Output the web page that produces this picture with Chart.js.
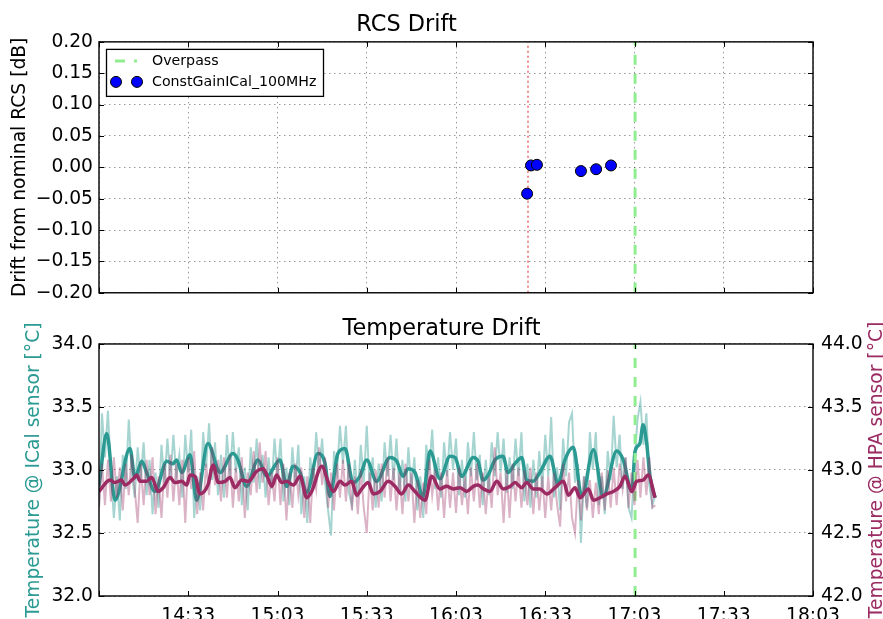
<!DOCTYPE html>
<html>
<head>
<meta charset="utf-8">
<script src="https://cdn.jsdelivr.net/npm/chart.js@4.4.1/dist/chart.umd.min.js"></script>
<style>
  html, body { margin: 0; padding: 0; background: #fff; overflow: hidden; }
  #wrap { position: relative; width: 883px; height: 619px; }
  #rcsChart { position: absolute; left: 0; top: 0; }
  #tempChart { position: absolute; left: 0; top: 305px; }
</style>
</head>
<body>
<div id="wrap">
  <canvas id="rcsChart" width="883" height="310"></canvas>
  <canvas id="tempChart" width="883" height="314"></canvas>
</div>
<script>
// x axis is minutes after 14:03
const timeTicks = ['', '14:33', '15:03', '15:33', '16:03', '16:33', '17:03', '17:33', '18:03'];
const overpassMin = 180.2;
const firstCalMin = 144.2;

// RCS drift points
const rcsTimes = [143.9, 145.2, 147.2, 162.0, 167.1, 172.1];
const rcsDrift = [-0.042, 0.003, 0.004, -0.006, -0.003, 0.003];

// ICal sensor, raw (one value per minute, starting at 14:03)
const icalRaw = [32.72, 33.45, 33.10, 33.47, 32.98, 32.62, 32.95, 32.60, 33.12, 32.85,
  33.40, 32.98, 32.78, 33.18, 32.92, 33.22, 32.80, 33.08, 32.65, 32.98,
  32.70, 33.20, 32.90, 33.25, 32.92, 33.28, 32.95, 33.12, 32.78, 33.28,
  32.98, 33.32, 32.62, 32.95, 32.68, 33.30, 33.02, 33.37, 32.92, 33.22,
  32.80, 33.12, 32.78, 33.28, 32.95, 33.30, 32.98, 33.18, 32.72, 33.02,
  32.68, 33.18, 32.90, 33.25, 32.85, 33.12, 32.78, 33.10, 32.85, 33.25,
  32.95, 33.25, 32.75, 33.02, 32.72, 33.18, 32.88, 33.20, 32.65, 32.95,
  32.58, 33.10, 32.88, 33.30, 32.98, 33.25, 32.90, 32.68, 32.48, 33.15,
  32.98, 33.35, 33.05, 33.35, 32.82, 32.72, 33.08, 32.78, 33.20, 32.90,
  33.35, 32.85, 33.10, 32.70, 33.05, 32.75, 33.22, 32.95, 33.28, 32.92,
  33.25, 32.82, 33.08, 32.75, 33.18, 32.85, 33.10, 32.68, 32.95, 32.62,
  33.20, 33.00, 33.32, 32.85, 33.10, 32.78, 33.22, 32.95, 33.30, 33.00,
  33.25, 32.80, 33.08, 32.78, 33.22, 32.95, 33.30, 32.92, 33.12, 32.72,
  33.08, 32.80, 33.22, 32.95, 33.30, 32.98, 33.25, 32.82, 33.10, 32.85,
  33.25, 32.95, 33.30, 32.75, 33.05, 32.70, 33.08, 32.78, 33.15, 32.85,
  33.28, 32.95, 33.42, 32.78, 33.02, 32.68, 33.25, 32.95, 33.38, 33.45,
  32.90, 33.05, 32.42, 32.95, 32.70, 33.30, 33.00, 33.30, 32.72, 32.95,
  32.65, 33.15, 32.92, 33.43, 33.02, 33.28, 32.85, 33.10, 32.70, 32.62,
  33.05, 33.40, 33.54, 33.20, 33.45, 32.88, 32.72, 32.80];

// HPA sensor, raw (one value per minute)
const hpaRaw = [42.70, 43.05, 42.72, 43.08, 42.75, 43.10, 42.78, 43.02, 42.68, 43.05,
  42.80, 43.12, 42.85, 42.58, 43.05, 42.72, 43.08, 42.80, 43.10, 42.65,
  42.95, 42.62, 43.05, 42.78, 43.12, 42.75, 43.05, 42.72, 43.08, 42.58,
  43.10, 42.85, 43.15, 42.65, 42.98, 42.68, 43.05, 42.80, 43.18, 42.88,
  43.08, 42.75, 43.10, 42.78, 43.12, 42.70, 43.02, 42.75, 43.10, 42.62,
  42.98, 42.80, 43.15, 42.82, 43.22, 42.90, 43.15, 42.72, 42.98, 42.75,
  43.10, 42.72, 43.05, 42.60, 42.98, 42.70, 43.05, 42.80, 43.02, 42.62,
  42.95, 42.58, 43.02, 42.85, 43.18, 42.88, 43.10, 42.70, 42.98, 42.68,
  43.05, 42.78, 43.08, 42.75, 43.05, 42.68, 42.95, 42.65, 43.00, 42.70,
  42.50, 42.98, 42.68, 43.00, 42.70, 43.05, 42.78, 43.10, 42.75, 43.02,
  42.68, 42.98, 42.65, 43.05, 42.75, 42.98, 42.58, 42.92, 42.62, 42.90,
  42.65, 43.08, 42.80, 43.00, 42.68, 42.98, 42.62, 43.00, 42.70, 42.98,
  42.66, 43.02, 42.72, 42.95, 42.65, 43.02, 42.75, 43.05, 42.70, 42.98,
  42.65, 42.95, 42.70, 43.18, 42.80, 42.98, 42.58, 43.00, 42.62, 43.05,
  42.75, 43.02, 42.70, 43.00, 42.72, 43.02, 42.65, 42.98, 42.68, 42.95,
  42.62, 42.95, 42.68, 42.98, 42.72, 42.55, 43.05, 42.75, 42.98, 42.62,
  42.50, 42.92, 42.60, 42.95, 42.68, 42.92, 42.62, 42.90, 42.65, 42.98,
  42.68, 43.00, 42.70, 43.02, 42.72, 43.05, 42.85, 43.10, 42.70, 42.98,
  42.72, 43.08, 42.78, 43.10, 42.80, 43.10, 42.70, 42.72];

// smoothed curves
const icalSmoothT = [0, 2.6, 5.4, 10.4, 12.1, 14.4, 16.0, 18.8, 22.8, 24.9,
  26.1, 27.8, 30.6, 32.8, 36.6, 40.7, 45.0, 46.7, 49.6, 53.4,
  56.4, 60.8, 63.1, 65.2, 67.6, 69.8, 73.6, 76.0, 77.6, 80.3,
  82.7, 85.4, 87.7, 90.0, 93.3, 97.8, 100.1, 102.2, 103.9, 106.2,
  108.9, 111.3, 114.6, 118.0, 119.7, 121.9, 125.8, 127.4, 129.1, 130.8,
  133.1, 135.8, 137.5, 139.8, 142.1, 143.7, 145.9, 148.2, 151.6, 154.3,
  156.6, 159.4, 162.3, 166.2, 169.5, 174.0, 176.2, 179.1, 180.2, 181.8,
  182.9, 184.1, 185.2, 186.9];
const icalSmoothV = [32.87, 33.29, 32.76, 33.17, 32.94, 33.07, 32.98, 32.83, 33.07, 33.05,
  33.08, 32.98, 33.12, 32.76, 33.21, 32.98, 33.13, 33.08, 32.87, 33.08,
  32.95, 33.08, 32.87, 33.03, 32.98, 32.82, 33.13, 33.05, 32.79, 33.13,
  33.17, 32.90, 32.95, 33.08, 32.91, 33.10, 33.07, 32.95, 33.01, 32.98,
  32.79, 33.15, 32.93, 33.11, 33.10, 32.95, 33.10, 33.07, 32.92, 32.96,
  33.08, 33.11, 32.98, 33.05, 33.10, 32.92, 32.91, 32.98, 33.11, 32.89,
  33.08, 33.18, 32.79, 33.16, 32.79, 33.15, 33.08, 32.83, 33.15, 33.21,
  33.36, 33.21, 32.95, 32.78];

const hpaSmoothT = [0, 3.7, 5.4, 7.6, 8.7, 11.5, 12.7, 13.8, 16.0, 17.7,
  19.9, 21.6, 23.9, 25.5, 27.8, 29.5, 30.6, 32.3, 33.9, 36.6,
  38.4, 40.1, 42.4, 44.0, 45.7, 48.0, 50.2, 53.0, 55.2, 56.4,
  58.1, 59.7, 61.4, 63.1, 65.3, 67.6, 69.8, 71.5, 74.9, 77.1,
  78.8, 81.0, 82.7, 84.9, 86.6, 88.3, 90.5, 92.2, 94.5, 97.2,
  99.5, 101.7, 104.0, 106.2, 109.6, 111.8, 114.6, 116.8, 119.1, 121.3,
  123.6, 125.8, 127.5, 129.2, 131.4, 133.7, 135.9, 138.2, 139.8, 142.1,
  143.7, 146.0, 148.2, 150.5, 153.3, 156.1, 157.8, 160.0, 161.7, 164.5,
  166.2, 168.4, 170.7, 172.9, 175.1, 176.8, 179.1, 180.7, 182.9, 184.6,
  186.9];
const hpaSmoothV = [42.83, 42.92, 42.90, 42.92, 42.88, 42.93, 42.96, 42.91, 42.91, 42.94,
  42.83, 42.86, 42.94, 42.90, 42.91, 42.88, 42.96, 42.95, 42.81, 42.88,
  43.04, 42.90, 42.91, 42.94, 42.86, 42.92, 42.91, 42.99, 43.01, 42.96,
  42.87, 42.96, 42.90, 42.91, 42.88, 42.95, 42.78, 42.83, 43.03, 42.90,
  42.83, 42.91, 42.88, 42.91, 42.80, 42.85, 42.90, 42.81, 42.83, 42.91,
  42.87, 42.81, 42.88, 42.83, 42.76, 42.95, 42.85, 42.87, 42.85, 42.86,
  42.83, 42.87, 42.88, 42.85, 42.83, 42.91, 42.85, 42.87, 42.90, 42.86,
  42.90, 42.85, 42.85, 42.81, 42.86, 42.91, 42.80, 42.86, 42.78, 42.85,
  42.76, 42.78, 42.81, 42.83, 42.87, 42.95, 42.83, 42.91, 42.92, 42.96,
  42.78];

const TEAL = '#2b9a92';
const TEAL_RAW = 'rgba(43,154,146,0.42)';
const PLUM = '#9b2b62';
const PLUM_RAW = 'rgba(155,43,98,0.36)';
const FONT = "'DejaVu Sans', sans-serif";

Chart.defaults.font.family = FONT;
Chart.defaults.font.size = 18.7;
Chart.defaults.color = '#000';

function pairs(xs, ys) {
  return xs.map((x, i) => ({ x: x, y: ys[i] }));
}
function minus(s) {
  return s.replace('-', '\u2212');
}

// black frame plus inward tick marks, matplotlib style
const framePlugin = {
  id: 'frame',
  afterDraw(chart) {
    const { ctx, chartArea: a, scales } = chart;
    const len = 5;
    ctx.save();
    ctx.strokeStyle = '#000';
    ctx.lineWidth = 1;
    ctx.beginPath();
    scales.x.ticks.forEach(t => {
      const px = Math.round(scales.x.getPixelForValue(t.value)) + 0.5;
      ctx.moveTo(px, a.bottom); ctx.lineTo(px, a.bottom - len);
      ctx.moveTo(px, a.top); ctx.lineTo(px, a.top + len);
    });
    scales.y.ticks.forEach(t => {
      const py = Math.round(scales.y.getPixelForValue(t.value)) + 0.5;
      ctx.moveTo(a.left, py); ctx.lineTo(a.left + len, py);
    });
    const r = scales.y2 || scales.y;
    r.ticks.forEach(t => {
      const py = Math.round(r.getPixelForValue(t.value)) + 0.5;
      ctx.moveTo(a.right, py); ctx.lineTo(a.right - len, py);
    });
    ctx.stroke();
    ctx.lineWidth = 1.4;
    ctx.strokeRect(a.left, a.top, a.right - a.left, a.bottom - a.top);
    ctx.restore();
  }
};

// legend drawn inside the upper left corner of the plot
const insideLegend = {
  id: 'insideLegend',
  afterDraw(chart) {
    const { ctx, chartArea: a } = chart;
    const items = chart.data.datasets.filter(d => d.legendRow !== undefined)
      .sort((p, q) => p.legendRow - q.legendRow);
    const x0 = a.left + 7, y0 = a.top + 7;
    ctx.save();
    ctx.fillStyle = '#fff';
    ctx.fillRect(x0, y0, 217, 47);
    ctx.strokeStyle = '#000';
    ctx.lineWidth = 1.3;
    ctx.strokeRect(x0 + 0.5, y0 + 0.5, 217, 47);
    ctx.font = '14.2px ' + FONT;
    ctx.textBaseline = 'middle';
    items.forEach((d, i) => {
      const cy = y0 + 12 + i * 21;
      if (d.showLine === false) {
        [x0 + 10, x0 + 31].forEach(cx => {
          ctx.beginPath();
          ctx.arc(cx, cy, d.pointRadius, 0, Math.PI * 2);
          ctx.fillStyle = d.backgroundColor;
          ctx.fill();
          ctx.lineWidth = 1;
          ctx.strokeStyle = d.pointBorderColor;
          ctx.stroke();
        });
      } else {
        ctx.beginPath();
        ctx.setLineDash(d.borderDash || []);
        ctx.strokeStyle = d.borderColor;
        ctx.lineWidth = d.borderWidth;
        ctx.moveTo(x0 + 9, cy);
        ctx.lineTo(x0 + 31, cy);
        ctx.stroke();
        ctx.setLineDash([]);
      }
      ctx.fillStyle = '#000';
      ctx.fillText(d.label, x0 + 46, cy);
    });
    ctx.restore();
  }
};

// right-hand axis title, reading bottom to top like the left one
const rightTitle = {
  id: 'rightTitle',
  afterDraw(chart) {
    const s = chart.scales.y2;
    if (!s) return;
    const t = s.options.title;
    const { ctx, chartArea: a } = chart;
    ctx.save();
    ctx.translate(877, (a.top + a.bottom) / 2);
    ctx.rotate(-Math.PI / 2);
    ctx.font = '18.7px ' + FONT;
    ctx.fillStyle = t.color;
    ctx.textAlign = 'center';
    ctx.textBaseline = 'middle';
    ctx.fillText(t.text, 0, 0);
    ctx.restore();
  }
};

const dottedGrid = { color: 'rgba(0,0,0,0.4)', lineWidth: 1, drawTicks: false };
const dottedBorder = { display: false, dash: [1.5, 3.5] };

const timeAxis = (showLabels, grid, height) => ({
  type: 'linear',
  min: 0,
  max: 240,
  ticks: { stepSize: 30, display: showLabels, padding: 1, maxRotation: 0, autoSkip: false,
    callback: (v, i) => timeTicks[i] },
  grid: grid,
  border: dottedBorder,
  afterFit(scale) { scale.height = height; }
});

// ---------- RCS drift ----------
new Chart(document.getElementById('rcsChart'), {
  type: 'line',
  data: {
    datasets: [
      {
        label: 'ConstGainICal_100MHz',
        legendRow: 1,
        data: pairs(rcsTimes, rcsDrift),
        showLine: false,
        pointRadius: 5.5,
        backgroundColor: '#0000ff',
        pointBackgroundColor: '#0000ff',
        pointBorderColor: '#000',
        pointBorderWidth: 1,
        order: 1
      },
      {
        label: 'Overpass',
        legendRow: 0,
        data: pairs([overpassMin, overpassMin], [-0.2, 0.2]),
        borderColor: '#90ee90',
        borderWidth: 3,
        borderDash: [10, 9],
        pointRadius: 0,
        order: 2
      },
      {
        label: 'first cal',
        data: pairs([firstCalMin, firstCalMin], [-0.2, 0.2]),
        borderColor: 'rgba(240,120,120,0.85)',
        borderWidth: 2,
        borderDash: [2, 3],
        pointRadius: 0,
        order: 3
      }
    ]
  },
  options: {
    responsive: false,
    animation: false,
    events: [],
    layout: { padding: { top: 1, left: 0, right: 70, bottom: 0 } },
    plugins: {
      legend: { display: false },
      tooltip: { enabled: false },
      title: { display: true, text: 'RCS Drift', font: { size: 22.4, weight: 'normal' },
        padding: { top: 11, bottom: 3 }, color: '#000' }
    },
    scales: {
      x: timeAxis(false, { ...dottedGrid, display: true }, 16),
      y: {
        min: -0.2,
        max: 0.2,
        ticks: { stepSize: 0.05, padding: 6,
          callback: v => minus((Math.abs(v) < 1e-9 ? 0 : v).toFixed(2)) },
        grid: dottedGrid,
        border: dottedBorder,
        title: { display: true, text: 'Drift from nominal RCS [dB]', padding: { top: 9, bottom: 0 } },
        afterFit(scale) { scale.width = 99; }
      }
    }
  },
  plugins: [framePlugin, insideLegend]
});

// ---------- Temperature drift ----------
const minutes = icalRaw.map((v, i) => i);

new Chart(document.getElementById('tempChart'), {
  type: 'line',
  data: {
    datasets: [
      { label: 'HPA smooth', data: pairs(hpaSmoothT, hpaSmoothV), yAxisID: 'y2',
        borderColor: PLUM, borderWidth: 3.5, pointRadius: 0, cubicInterpolationMode: 'monotone', order: 1 },
      { label: 'HPA raw', data: pairs(minutes, hpaRaw), yAxisID: 'y2',
        borderColor: PLUM_RAW, borderWidth: 2, pointRadius: 0, order: 2 },
      { label: 'Overpass', data: pairs([overpassMin, overpassMin], [32, 34]), yAxisID: 'y',
        borderColor: '#90ee90', borderWidth: 3, borderDash: [10, 9], pointRadius: 0, order: 3 },
      { label: 'ICal smooth', data: pairs(icalSmoothT, icalSmoothV), yAxisID: 'y',
        borderColor: TEAL, borderWidth: 3.5, pointRadius: 0, cubicInterpolationMode: 'monotone', order: 4 },
      { label: 'ICal raw', data: pairs(minutes, icalRaw), yAxisID: 'y',
        borderColor: TEAL_RAW, borderWidth: 2, pointRadius: 0, order: 5 }
    ]
  },
  options: {
    responsive: false,
    animation: false,
    events: [],
    layout: { padding: 0 },
    plugins: {
      legend: { display: false },
      tooltip: { enabled: false },
      title: { display: true, text: 'Temperature Drift', font: { size: 22.4, weight: 'normal' },
        padding: { top: 10.5, bottom: 1.6 }, color: '#000' }
    },
    scales: {
      x: timeAxis(true, { display: false }, 23),
      y: {
        position: 'left',
        min: 32,
        max: 34,
        ticks: { stepSize: 0.5, padding: 6, callback: v => v.toFixed(1) },
        grid: dottedGrid,
        border: dottedBorder,
        title: { display: true, text: 'Temperature @ ICal sensor [°C]', color: TEAL, padding: { top: 23, bottom: 0 } },
        afterFit(scale) { scale.width = 99; }
      },
      y2: {
        position: 'right',
        min: 42,
        max: 44,
        ticks: { stepSize: 0.5, padding: 8, callback: v => v.toFixed(1) },
        grid: { display: false, drawTicks: false },
        border: { display: false },
        title: { display: false, text: 'Temperature @ HPA sensor [°C]', color: PLUM },
        afterFit(scale) { scale.width = 70; }
      }
    }
  },
  plugins: [framePlugin, rightTitle]
});
</script>
</body>
</html>
